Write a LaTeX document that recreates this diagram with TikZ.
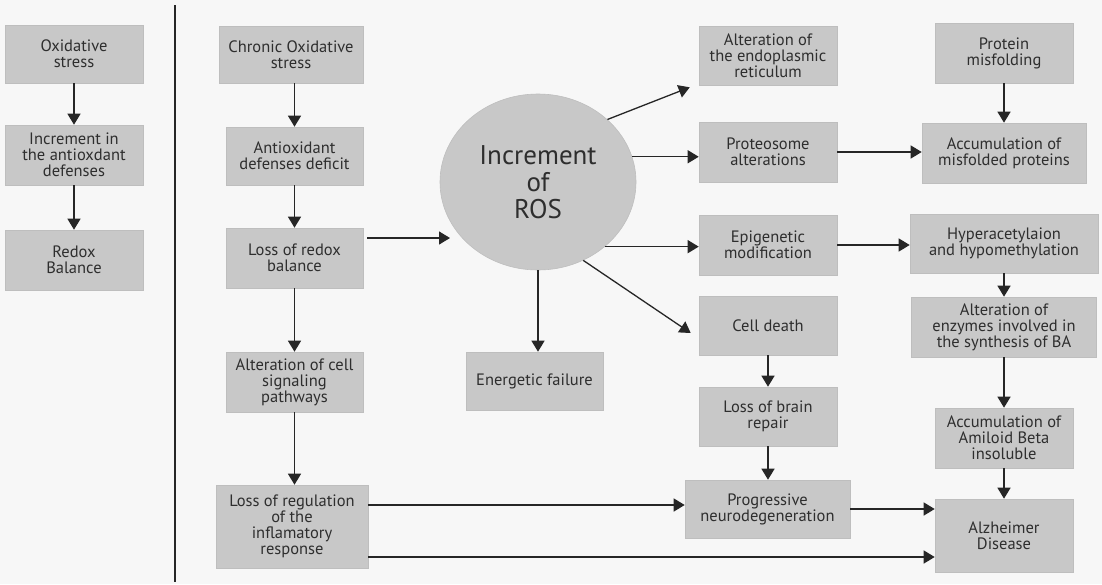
\documentclass[tikz,border=0pt]{standalone}
\usepackage{fontspec}
\setmainfont{PT Sans}
\usetikzlibrary{arrows.meta,shapes.geometric}
\definecolor{bg}{HTML}{F7F7F7}
\definecolor{boxfill}{HTML}{C8C8C8}
\definecolor{boxline}{HTML}{BEBEBE}
\definecolor{ink}{HTML}{2E2E2E}
\definecolor{arrowc}{HTML}{262626}
\tikzset{
  box/.style={rectangle, fill=boxfill, draw=boxline, line width=0.6pt, align=center,
    text=ink, font=\fontsize{16.5}{16}\selectfont, inner sep=1pt},
  arr/.style={draw=arrowc, line width=1.3pt, -{Triangle[length=11pt,width=13pt]}},
}
\begin{document}
\begin{tikzpicture}[x=1pt,y=-1pt]
\fill[bg] (0,0) rectangle (1102,584);
\useasboundingbox (0,0) rectangle (1102,584);
% separator
\draw[draw=arrowc, line width=2.6pt] (175,5) -- (175,582);
% left column
\node[box, minimum width=138pt, minimum height=58pt] (L1) at (74,54) {Oxidative\\stress};
\node[box, minimum width=138pt, minimum height=60pt] (L2) at (74,155) {Increment in\\the antioxdant\\defenses};
\node[box, minimum width=138pt, minimum height=60pt] (L3) at (74,260) {Redox\\Balance};
\draw[arr] (L1.south) -- (L2.north);
\draw[arr] (L2.south) -- (L3.north);
% second column
\node[box, minimum width=144pt, minimum height=57pt] (C1) at (291,54.5) {Chronic Oxidative\\stress};
\node[box, minimum width=137pt, minimum height=58pt] (C2) at (294.5,156) {Antioxidant\\defenses deficit};
\node[box, minimum width=137pt, minimum height=60pt] (C3) at (294.5,258) {Loss of redox\\balance};
\node[box, minimum width=137pt, minimum height=60pt] (C4) at (294.5,382) {Alteration of cell\\signaling\\pathways};
\node[box, minimum width=152pt, minimum height=83pt] (C5) at (292,526.5) {Loss of regulation\\of the\\inflamatory\\response};
\draw[arr] (C2.north |- C1.south) -- (C2.north);
\draw[arr] (C2.south) -- (C3.north);
\draw[arr] (C3.south) -- (C4.north);
\draw[arr] (C4.south) -- (C4.south |- C5.north);
% ROS
\node[ellipse, fill=boxfill, draw=boxline, line width=0.6pt, minimum width=196pt, minimum height=176pt,
  inner sep=0pt, align=center, text=ink, font=\fontsize{27}{27}\selectfont] (ROS) at (538,182) {Increment\\of\\ROS};
\coordinate (rosin) at (450,238);
\coordinate (p0) at (C3.east |- rosin);
\draw[arr] ([xshift=4pt]p0) -- (rosin);
% middle-right column
\node[box, minimum width=138pt, minimum height=59pt] (E1) at (768,55.5) {Alteration of\\the endoplasmic\\reticulum};
\node[box, minimum width=138pt, minimum height=60pt] (E2) at (768,152) {Proteosome\\alterations};
\node[box, minimum width=138pt, minimum height=60pt] (E3) at (768,245) {Epigenetic\\modification};
\node[box, minimum width=138pt, minimum height=59pt] (E4) at (768,325.5) {Cell death};
\node[box, minimum width=138pt, minimum height=59pt] (E5) at (768,416.5) {Loss of brain\\repair};
\node[box, minimum width=165pt, minimum height=58pt] (E6) at (767.5,509) {Progressive\\neurodegeneration};
\node[box, minimum width=137pt, minimum height=58pt] (EF) at (534.5,381) {Energetic failure};
\draw[arr] (ROS.42) -- ([shift={(-9pt,-2pt)}]E1.south west);
\draw[arr] (ROS.15) -- (ROS.15 -| E2.west);
\draw[arr] (ROS.-44) -- (ROS.-44 -| E3.west);
\draw[arr] (ROS.-60) -- ([shift={(-8pt,-7.5pt)}]E4.west);
\draw[arr] (ROS.south) -- (ROS.south |- EF.north);
\draw[arr] (E4.south) -- (E5.north);
\draw[arr] (E5.south) -- (E5.south |- E6.north);
% right column
\node[box, minimum width=138pt, minimum height=60pt] (R1) at (1004,53) {Protein\\misfolding};
\node[box, minimum width=164pt, minimum height=60pt] (R2) at (1004,153) {Accumulation of\\misfolded proteins};
\node[box, minimum width=188pt, minimum height=59pt] (R3) at (1004,243.5) {Hyperacetylaion\\and hypomethylation};
\node[box, minimum width=185pt, minimum height=60pt] (R4) at (1004,327) {Alteration of\\enzymes involved in\\the synthesis of BA};
\node[box, minimum width=138pt, minimum height=60pt] (R5) at (1004,438) {Accumulation of\\Amiloid Beta\\insoluble};
\node[box, minimum width=138pt, minimum height=73pt] (R6) at (1004,535.5) {Alzheimer\\Disease};
\draw[arr] (R1.south) -- (R2.north);
\draw[arr] (R3.south) -- (R4.north);
\draw[arr] (R4.south) -- (R5.north);
\draw[arr] (R5.south) -- (R6.north);
\draw[arr] (E2.east) -- (E2.east -| R2.west);
\draw[arr] (E3.east) -- (E3.east -| R3.west);
% bottom connections
\coordinate (p1) at ([yshift=4pt]E6.west);
\draw[arr] (p1 -| C5.east) -- (p1);
\draw[arr] (E6.east) -- (E6.east -| R6.west);
\coordinate (p2) at ([yshift=-21.5pt]R6.west);
\draw[arr] (p2 -| C5.east) -- (p2);
\end{tikzpicture}
\end{document}
